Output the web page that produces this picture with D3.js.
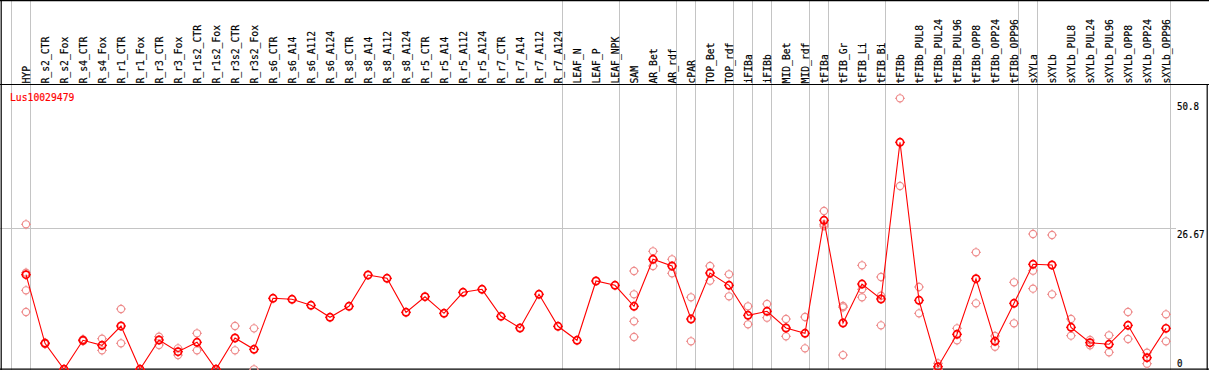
<!DOCTYPE html>
<html><head><meta charset="utf-8">
<script src="https://cdn.jsdelivr.net/npm/d3@7"></script>
<style>html,body{margin:0;padding:0;background:#fff;overflow:hidden}svg{display:block}</style>
</head><body><svg id="c" width="1209" height="370"></svg>
<script>
const title = "Lus10029479";
const categories = ["HYP","R_s2_CTR","R_s2_Fox","R_s4_CTR","R_s4_Fox","R_r1_CTR","R_r1_Fox","R_r3_CTR","R_r3_Fox","R_r1s2_CTR","R_r1s2_Fox","R_r3s2_CTR","R_r3s2_Fox","R_s6_CTR","R_s6_A14","R_s6_A112","R_s6_A124","R_s8_CTR","R_s8_A14","R_s8_A112","R_s8_A124","R_r5_CTR","R_r5_A14","R_r5_A112","R_r5_A124","R_r7_CTR","R_r7_A14","R_r7_A112","R_r7_A124","LEAF_N","LEAF_P","LEAF_NPK","SAM","AR_Bet","AR_rdf","cPAR","TOP_Bet","TOP_rdf","iFIBa","iFIBb","MID_Bet","MID_rdf","tFIBa","tFIB_Gr","tFIB_Li","tFIB_Bi","tFIBb","tFIBb_PUL8","tFIBb_PUL24","tFIBb_PUL96","tFIBb_OPP8","tFIBb_OPP24","tFIBb_OPP96","sXYLa","sXYLb","sXYLb_PUL8","sXYLb_PUL24","sXYLb_PUL96","sXYLb_OPP8","sXYLb_OPP24","sXYLb_OPP96"];
const means = [17.89,4.92,0,5.49,4.54,8.19,0,5.54,3.33,5.11,0,5.92,3.78,13.43,13.24,12.11,9.84,11.92,17.84,17.21,10.78,13.73,10.59,14.56,15.13,10.02,7.81,14.19,8.13,5.49,16.70,15.89,11.92,20.81,19.54,9.51,18.21,15.89,10.21,10.97,7.81,6.81,28.18,8.76,16.13,13.30,42.94,13.05,0.49,6.62,17.14,5.30,12.48,19.86,19.73,7.94,5.03,4.73,8.32,2.19,7.75];
const replicates = [
  [27.43,18.27,14.94,10.84],[5.03,4.79],[0],[5.67,5.35],[5.79,3.59],[11.41,4.92],[0],[6.17,4.60],[3.97,2.69],[6.81,3.59],[0],[8.19,3.59],[7.75,0],
  [],[],[],[],[],[],[],[],[],[],[],[],[],[],[],[],[],[],[],
  [18.59,14.19,9.08,6.11],[22.32,19.54],[20.81,18.16],[13.62,5.30],[19.54,16.76],[17.97,13.81],[11.92,8.51],[12.35,9.76],[9.51,6.24],[9.89,3.97],
  [29.94,27.43,27.10],[11.97,11.73,2.70],[19.67,15.13,13.62],[17.46,13.92,8.32],[51.26,34.67],[15.57,10.59],[1.13,0],[7.75,5.49],[22.13,12.48],[6.30,4.27],[16.46,8.70],
  [25.59,18.65,15.25],[25.40,14.19],[9.51,6.36],[5.54,4.54],[6.43,3.22],[10.84,5.73],[3.14,1.06],[10.40,5.30]
];
const tickValues = [0, 26.67, 50.8];
const tickLabels = ["0", "26.67", "50.8"];
const separatorAfter = ["HYP","R_r7_A124","LEAF_NPK","AR_rdf","cPAR","TOP_rdf","iFIBa","iFIBb","MID_rdf","tFIBa","tFIB_Bi","tFIBb_OPP96","sXYLa","sXYLb_OPP96"];

const W = 1209, H = 370;
const svg = d3.select("#c");
const x = d3.scalePoint().domain(categories).range([26, 1166]).padding(0);
const step = x.step();
const y = d3.scaleLinear().domain([0, 26.67]).range([369.3, 228.3]);
const font = "'DejaVu Sans Mono', monospace";
const gridC = "#c4c4c4";

// vertical group separators
const sepX = [x(categories[0]) - step + 4].concat(separatorAfter.map(c => x(c) + 4));
svg.append("g").selectAll("line").data(sepX).join("line")
  .attr("x1", d => d + 0.5).attr("x2", d => d + 0.5)
  .attr("y1", 0).attr("y2", H)
  .attr("stroke", gridC).attr("stroke-width", 1);

// horizontal grid line at middle tick
svg.append("line")
  .attr("x1", 0).attr("x2", 1176)
  .attr("y1", Math.round(y(26.67)) + 0.5).attr("y2", Math.round(y(26.67)) + 0.5)
  .attr("stroke", gridC);

// frame
const frame = svg.append("g").attr("stroke", "#000").attr("stroke-width", 1.2);
frame.append("line").attr("x1", 0).attr("x2", W).attr("y1", 0.6).attr("y2", 0.6);
frame.append("line").attr("x1", 0).attr("x2", W).attr("y1", 84.5).attr("y2", 84.5);
frame.append("line").attr("x1", 0).attr("x2", W).attr("y1", 369.2).attr("y2", 369.2);
frame.append("line").attr("x1", 1.2).attr("x2", 1.2).attr("y1", 0).attr("y2", H);
frame.append("line").attr("x1", 1207.2).attr("x2", 1207.2).attr("y1", 84.5).attr("y2", H);

// header labels
svg.append("g").selectAll("text").data(categories).join("text")
  .attr("transform", d => `translate(${x(d) + 3.6},83.5) rotate(-90)`)
  .attr("font-family", font).attr("font-size", 11).attr("fill", "#000")
  .attr("stroke", "#000").attr("stroke-width", 0.2)
  .attr("textLength", d => d.length * 5.85).attr("lengthAdjust", "spacingAndGlyphs")
  .text(d => d);

// title
svg.append("text").attr("x", 10).attr("y", 101)
  .attr("font-family", font).attr("font-size", 11).attr("fill", "#f00")
  .attr("stroke", "#f00").attr("stroke-width", 0.2)
  .attr("textLength", title.length * 5.85).attr("lengthAdjust", "spacingAndGlyphs")
  .text(title);

// right tick labels
svg.append("g").selectAll("text").data(tickValues).join("text")
  .attr("x", 1177).attr("y", d => Math.min(y(d) + 9.3, 366.5))
  .attr("font-family", font).attr("font-size", 11).attr("fill", "#000")
  .attr("stroke", "#000").attr("stroke-width", 0.2)
  .attr("textLength", (d, i) => tickLabels[i].length * 5.5).attr("lengthAdjust", "spacingAndGlyphs")
  .text((d, i) => tickLabels[i]);

// marker with small ticks
function marker(g, cx, cy, color, sw) {
  g.append("circle").attr("cx", cx).attr("cy", cy).attr("r", 3.6)
    .attr("fill", "none").attr("stroke", color).attr("stroke-width", sw);
  g.append("path")
    .attr("d", `M${cx},${cy-3.6}v-1.4M${cx},${cy+3.6}v1.4M${cx-3.6},${cy}h-1.4M${cx+3.6},${cy}h1.4`)
    .attr("stroke", color).attr("stroke-width", 1);
}

const plot = svg.append("g");
// replicates
const repData = [];
replicates.forEach((arr, i) => arr.forEach(v => repData.push([categories[i], v])));
const repG = plot.append("g");
repData.forEach(([c, v]) => marker(repG, x(c), y(v), "#ee8c8c", 1.1));

// mean line
plot.append("path").datum(means)
  .attr("d", d3.line().x((d, i) => x(categories[i])).y(d => y(d)))
  .attr("fill", "none").attr("stroke", "#f00").attr("stroke-width", 1.1);

// mean markers
const meanG = plot.append("g");
means.forEach((v, i) => marker(meanG, x(categories[i]), y(v), "#f00", 1.7));
</script></body></html>
